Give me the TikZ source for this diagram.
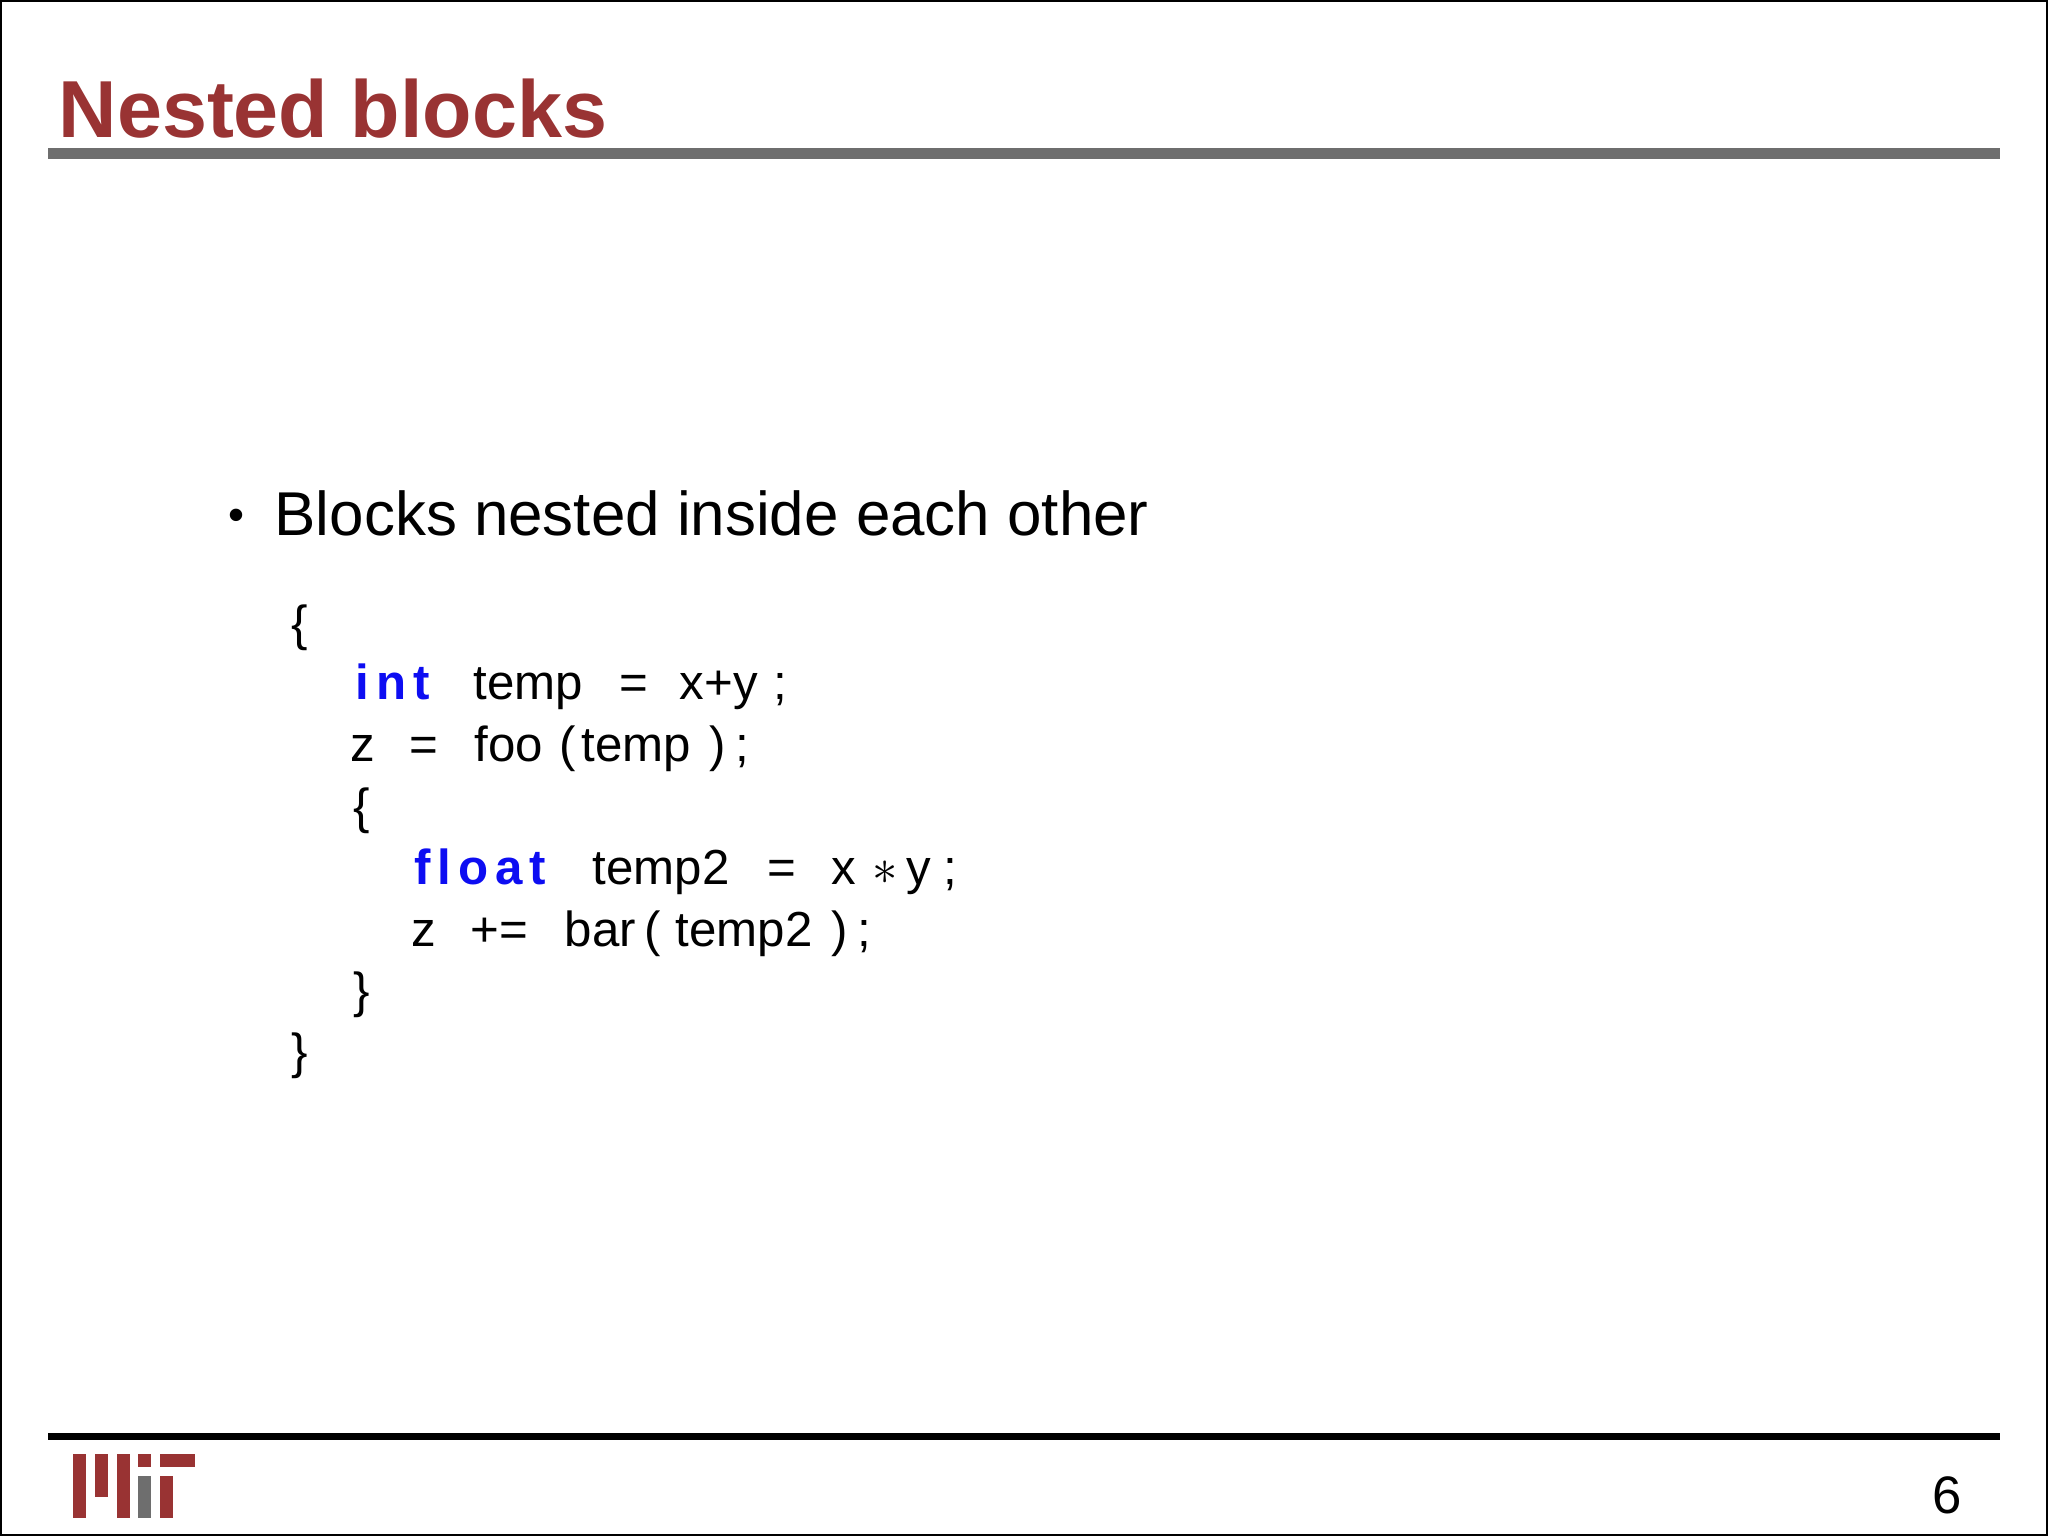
\documentclass[tikz,border=0pt]{standalone}
\usepackage{fontspec}
\setmainfont{Liberation Sans}
\usepackage{tikz}
\definecolor{MitRed}{rgb}{0.60, 0.20, 0.20}
\definecolor{BarGray}{rgb}{0.43, 0.43, 0.43}
\definecolor{KeyBlue}{rgb}{0.05, 0.05, 0.95}
\newcommand{\kw}[1]{{\color{KeyBlue}\bfseries\addfontfeature{LetterSpace=14}#1}}
\begin{document}
\begin{tikzpicture}[x=0.01cm, y=-0.01cm,
    codetok/.style={anchor=base west, inner sep=0pt, font=\fontsize{14}{16}\selectfont},
    logobar/.style={fill=MitRed, draw=none}]
        % Page frame and rules
        \useasboundingbox (0,0) rectangle (2048,1536);
        \draw[line width=0.6pt] (1,1) rectangle (2047,1535);
        \fill[BarGray] (48,148) rectangle (2000,159);
        \fill[black] (48,1433) rectangle (2000,1440);

        % Title
        \node[anchor=base west, inner sep=0pt, text=MitRed,
              font=\fontsize{23}{27}\selectfont\bfseries] (title) at (58,137) {Nested blocks};

        % Bullet
        \node[anchor=base west, inner sep=0pt, font=\fontsize{13}{16}\selectfont] (dot) at (228,530) {•};
        \node[anchor=base west, inner sep=0pt, font=\fontsize{17.6}{21}\selectfont] (item) at (274,535) {Blocks nested inside each other};

        % Code lines
        \node[codetok] (open1) at (291,640) {\{};
        \foreach \x/\t [count=\i] in {355/\kw{int}, 473/temp, 619/=, 679/x+y, 773/;}
            \node[codetok] (la\i) at (\x,699) {\t};
        \foreach \x/\t [count=\i] in {350/z, 409/=, 474/foo, 559/(, 581/temp, 709/), 735/;}
            \node[codetok] (lb\i) at (\x,761) {\t};
        \node[codetok] (open2) at (353,823) {\{};
        \foreach \x/\t [count=\i] in {414/\kw{float}, 592/temp2, 767/=, 831/x, 872/$\ast$, 906/y, 943/;}
            \node[codetok] (lc\i) at (\x,884) {\t};
        \foreach \x/\t [count=\i] in {411/z, 470/+=, 564/bar, 644/(, 675/temp2, 831/), 857/;}
            \node[codetok] (ld\i) at (\x,946) {\t};
        \node[codetok] (close2) at (353,1007) {\}};
        \node[codetok] (close1) at (291,1068) {\}};

        % Logo
        \fill[logobar] (73,1454) rectangle (86,1518);
        \fill[logobar] (95,1454) rectangle (108,1497);
        \fill[logobar] (117,1454) rectangle (130,1518);
        \fill[logobar] (138,1454) rectangle (151,1467);
        \fill[BarGray] (138,1476) rectangle (151,1518);
        \fill[logobar] (160,1454) rectangle (195,1467);
        \fill[logobar] (160,1476) rectangle (173,1518);

        % Page number
        \node[anchor=base east, inner sep=0pt, font=\fontsize{15}{18}\selectfont] (pagenum) at (1963,1513) {6};
    \end{tikzpicture}
\end{document}
